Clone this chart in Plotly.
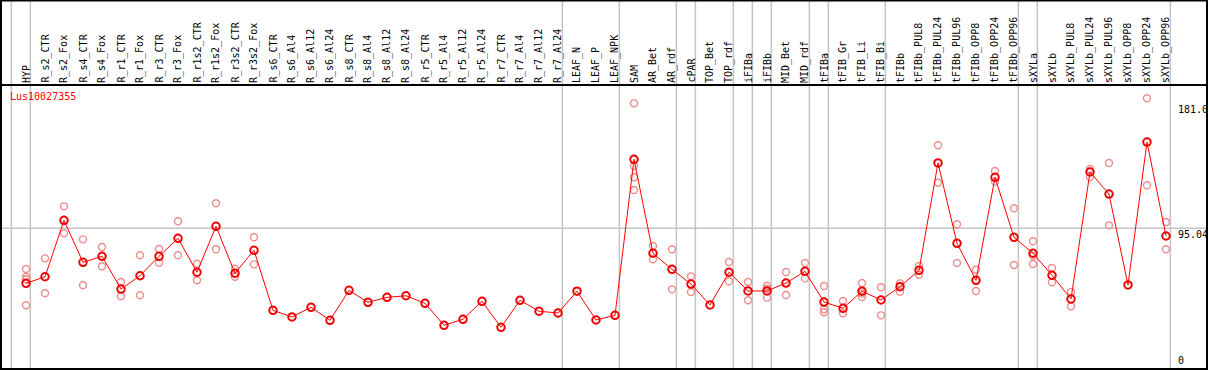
import plotly.graph_objects as go

W, H = 1209, 370

categories = ["HYP", "R_s2_CTR", "R_s2_Fox", "R_s4_CTR", "R_s4_Fox", "R_r1_CTR", "R_r1_Fox",
              "R_r3_CTR", "R_r3_Fox", "R_r1s2_CTR", "R_r1s2_Fox", "R_r3s2_CTR", "R_r3s2_Fox",
              "R_s6_CTR", "R_s6_Al4", "R_s6_Al12", "R_s6_Al24", "R_s8_CTR", "R_s8_Al4", "R_s8_Al12",
              "R_s8_Al24", "R_r5_CTR", "R_r5_Al4", "R_r5_Al12", "R_r5_Al24", "R_r7_CTR", "R_r7_Al4",
              "R_r7_Al12", "R_r7_Al24", "LEAF_N", "LEAF_P", "LEAF_NPK", "SAM", "AR_Bet", "AR_rdf",
              "cPAR", "TOP_Bet", "TOP_rdf", "iFIBa", "iFIBb", "MID_Bet", "MID_rdf", "tFIBa",
              "tFIB_Gr", "tFIB_Li", "tFIB_Bi", "tFIBb", "tFIBb_PUL8", "tFIBb_PUL24", "tFIBb_PUL96",
              "tFIBb_OPP8", "tFIBb_OPP24", "tFIBb_OPP96", "sXYLa", "sXYLb", "sXYLb_PUL8",
              "sXYLb_PUL24", "sXYLb_PUL96", "sXYLb_OPP8", "sXYLb_OPP24", "sXYLb_OPP96"]

means = [57.4, 61.9, 100.5, 71.8, 75.9, 53.5, 62.6, 75.9, 88.2, 65.0, 96.4, 64.3, 80.0,
         38.9, 34.4, 41.0, 32.1, 52.6, 44.4, 47.8, 48.9, 43.7, 28.7, 32.8, 45.1, 27.3, 45.8,
         38.3, 37.1, 52.0, 32.3, 35.5, 142.3, 78.0, 67.0, 56.9, 42.6, 65.0, 52.2, 52.2, 57.6,
         65.6, 44.6, 40.3, 52.0, 46.0, 55.1, 66.3, 139.8, 84.8, 59.5, 130.0, 88.9, 78.0, 62.9,
         46.7, 133.6, 118.5, 56.3, 154.1, 89.8]

replicates = [
    [67.2, 61.9, 60.2, 42.4], [74.5, 50.6], [110.1, 91.6], [87.5, 56.1], [82.3, 69.1],
    [58.3, 48.5], [76.6, 49.2], [80.9, 71.5], [99.9, 76.6], [70.8, 59.5], [112.2, 80.7],
    [67.4, 61.9], [88.9, 70.4],
    [], [], [], [], [], [], [], [], [], [], [], [], [], [], [], [], [], [], [],
    [180.6, 137.7, 130.0, 121.3], [83.0, 73.9], [80.7, 53.3], [62.2, 51.5], [],
    [72.0, 58.8], [58.3, 45.8], [55.8, 53.7, 47.6], [65.2, 49.4], [71.3, 60.8],
    [55.6, 39.6, 37.6], [45.3, 36.9], [57.6, 50.5, 48.0], [54.7, 35.5], [57.4, 51.7],
    [69.3, 63.3], [151.9, 126.3], [97.8, 71.3], [66.7, 52.2], [134.3, 127.0], [108.8, 70.0],
    [86.2, 76.3, 70.6], [67.9, 58.1], [51.5, 41.7], [135.7, 130.2], [139.8, 97.1], [],
    [184.1, 124.5], [99.4, 80.7]]

# columns after which a group separator is drawn (-1 = before first)
group_ends = [-1, 0, 28, 31, 34, 35, 37, 38, 39, 41, 42, 45, 52, 53, 60]

y_tick_values = [181.0, 95.04, 0]
y_tick_labels = ["181.0", "95.04", "0"]
gene_name = "Lus10027355"

# pixel calibration of the picture
X0_PX, DX_PX = 26.0, 19.0
Y0_PX, DY_PX = 367.2, 1.461

def px_x(p):
    return p / W

def px_y(p):
    return 1 - p / H

xs = list(range(len(categories)))
rx, ry = [], []
for i, reps in enumerate(replicates):
    for v in reps:
        rx.append(i)
        ry.append(v)

fig = go.Figure()
fig.add_trace(go.Scatter(x=rx, y=ry, mode="markers", hoverinfo="skip",
                         marker=dict(symbol="circle-open", size=7, color="#f08c8c",
                                     line=dict(width=1.4, color="#f08c8c"))))
fig.add_trace(go.Scatter(x=xs, y=means, mode="lines+markers",
                         line=dict(color="#ff0000", width=1),
                         marker=dict(symbol="circle-open", size=7.5, color="#f00000",
                                     line=dict(width=2, color="#f00000"))))

shapes = []
for g in group_ends:
    shapes.append(dict(type="line", xref="x", yref="paper", x0=g + 0.23, x1=g + 0.23,
                       y0=px_y(369), y1=1, line=dict(color="#c4c4c4", width=1.5), layer="below"))
shapes.append(dict(type="line", xref="paper", yref="y", x0=px_x(1), x1=px_x(1207),
                   y0=y_tick_values[1], y1=y_tick_values[1],
                   line=dict(color="#c4c4c4", width=1.5), layer="below"))
shapes.append(dict(type="rect", xref="paper", yref="paper", x0=px_x(1), x1=px_x(1207),
                   y0=px_y(369), y1=px_y(0.5), line=dict(color="black", width=2)))
shapes.append(dict(type="line", xref="paper", yref="paper", x0=px_x(1), x1=px_x(1207),
                   y0=px_y(85), y1=px_y(85), line=dict(color="black", width=2)))

font = dict(family="DejaVu Sans Mono", size=10, color="black")
annotations = []
for i, c in enumerate(categories):
    annotations.append(dict(x=i, xref="x", y=px_y(84), yref="paper", text=c, textangle=-90,
                            showarrow=False, xanchor="center", yanchor="bottom", font=font,
                            borderpad=0))
annotations.append(dict(x=px_x(8), xref="paper", y=px_y(96.7), yref="paper", text=gene_name,
                        showarrow=False, xanchor="left", yanchor="middle",
                        font=dict(family="DejaVu Sans Mono", size=10, color="#ff0000")))
for v, t in zip(y_tick_values, y_tick_labels):
    annotations.append(dict(x=px_x(1177), xref="paper", y=v, yref="y", text=t, showarrow=False,
                            xanchor="left", yanchor="bottom" if v == 0 else "top",
                            font=font, borderpad=0))

fig.update_layout(
    width=W, height=H, autosize=False,
    margin=dict(l=0, r=0, t=0, b=0, pad=0),
    paper_bgcolor="white", plot_bgcolor="white",
    showlegend=False,
    xaxis=dict(range=[(0 - X0_PX) / DX_PX, (W - X0_PX) / DX_PX], visible=False, fixedrange=True),
    yaxis=dict(range=[(Y0_PX - H) / DY_PX, Y0_PX / DY_PX], visible=False, fixedrange=True),
    shapes=shapes, annotations=annotations,
)

fig.write_html("out.html", config={"displayModeBar": False},
               post_script="document.body.style.margin='0';document.body.style.overflow='hidden';")
